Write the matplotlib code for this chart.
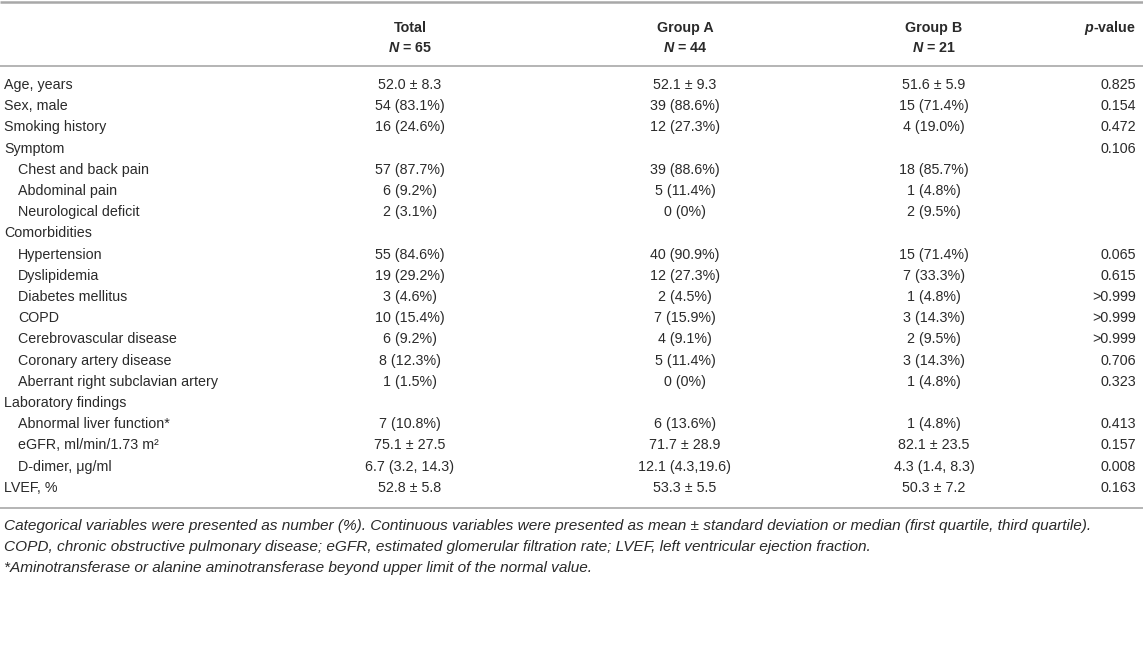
import matplotlib
matplotlib.use("Agg")
import matplotlib.pyplot as plt

plt.rcParams['font.family'] = ['Liberation Sans', 'DejaVu Sans']
plt.rcParams['mathtext.fontset'] = 'custom'
plt.rcParams['mathtext.rm'] = 'Liberation Sans'
plt.rcParams['mathtext.it'] = 'Liberation Sans:italic'
plt.rcParams['mathtext.bf'] = 'Liberation Sans:bold'
plt.rcParams['mathtext.bfit'] = 'Liberation Sans:italic:bold'

headers = ["Total", "Group A", "Group B"]
header_n = ["65", "44", "21"]

labels = ["Age, years", "Sex, male", "Smoking history", "Symptom",
          "Chest and back pain", "Abdominal pain", "Neurological deficit",
          "Comorbidities", "Hypertension", "Dyslipidemia", "Diabetes mellitus",
          "COPD", "Cerebrovascular disease", "Coronary artery disease",
          "Aberrant right subclavian artery", "Laboratory findings",
          "Abnormal liver function*", "eGFR, ml/min/1.73 m²",
          "D-dimer, μg/ml", "LVEF, %"]
indent = [0, 0, 0, 0, 1, 1, 1, 0, 1, 1, 1, 1, 1, 1, 1, 0, 1, 1, 1, 0]
total = ["52.0 ± 8.3", "54 (83.1%)", "16 (24.6%)", "",
         "57 (87.7%)", "6 (9.2%)", "2 (3.1%)", "",
         "55 (84.6%)", "19 (29.2%)", "3 (4.6%)", "10 (15.4%)", "6 (9.2%)",
         "8 (12.3%)", "1 (1.5%)", "",
         "7 (10.8%)", "75.1 ± 27.5", "6.7 (3.2, 14.3)", "52.8 ± 5.8"]
group_a = ["52.1 ± 9.3", "39 (88.6%)", "12 (27.3%)", "",
           "39 (88.6%)", "5 (11.4%)", "0 (0%)", "",
           "40 (90.9%)", "12 (27.3%)", "2 (4.5%)", "7 (15.9%)", "4 (9.1%)",
           "5 (11.4%)", "0 (0%)", "",
           "6 (13.6%)", "71.7 ± 28.9", "12.1 (4.3,19.6)", "53.3 ± 5.5"]
group_b = ["51.6 ± 5.9", "15 (71.4%)", "4 (19.0%)", "",
           "18 (85.7%)", "1 (4.8%)", "2 (9.5%)", "",
           "15 (71.4%)", "7 (33.3%)", "1 (4.8%)", "3 (14.3%)", "2 (9.5%)",
           "3 (14.3%)", "1 (4.8%)", "",
           "1 (4.8%)", "82.1 ± 23.5", "4.3 (1.4, 8.3)", "50.3 ± 7.2"]
p_values = ["0.825", "0.154", "0.472", "0.106",
            "", "", "", "",
            "0.065", "0.615", ">0.999", ">0.999", ">0.999", "0.706",
            "0.323", "",
            "0.413", "0.157", "0.008", "0.163"]
footnotes = [
    "Categorical variables were presented as number (%). Continuous variables were presented as mean ± standard deviation or median (first quartile, third quartile).",
    "COPD, chronic obstructive pulmonary disease; eGFR, estimated glomerular filtration rate; LVEF, left ventricular ejection fraction.",
    "*Aminotransferase or alanine aminotransferase beyond upper limit of the normal value.",
]

W, H = 1143, 660
fig = plt.figure(figsize=(W / 100, H / 100), dpi=100)
ax = fig.add_axes([0, 0, 1, 1])
ax.set_xlim(0, W)
ax.set_ylim(H, 0)
ax.axis('off')

txt = '#2a2a2a'
line_c = '#a8a8a8'
fs = 10.3

col_x = [410, 685, 934]
p_x = 1136
row_y0 = 85
row_dy = 21.2

ax.plot([0, W], [2, 2], color=line_c, lw=1.8, solid_capstyle='butt')
ax.plot([0, W], [66, 66], color=line_c, lw=1.2, solid_capstyle='butt')

for x, h, n in zip(col_x, headers, header_n):
    ax.text(x, 28, h, ha='center', va='center', fontsize=fs, fontweight='bold', color=txt)
    ax.text(x, 48, r"$\mathbfit{N}$ = " + n, ha='center', va='center',
            fontsize=fs, fontweight='bold', color=txt)
ax.text(p_x, 28, r"$\mathbfit{p}$-value", ha='right', va='center',
        fontsize=fs, fontweight='bold', color=txt)

for i, lab in enumerate(labels):
    y = row_y0 + i * row_dy
    ax.text(4 + 14 * indent[i], y, lab, ha='left', va='center', fontsize=fs, color=txt)
    for x, col in zip(col_x, [total, group_a, group_b]):
        if col[i]:
            ax.text(x, y, col[i], ha='center', va='center', fontsize=fs, color=txt)
    if p_values[i]:
        ax.text(p_x, y, p_values[i], ha='right', va='center', fontsize=fs, color=txt)

last_y = row_y0 + (len(labels) - 1) * row_dy
ax.plot([0, W], [last_y + 20, last_y + 20], color=line_c, lw=1.2, solid_capstyle='butt')

for j, fn in enumerate(footnotes):
    ax.text(4, 526 + j * 21, fn, ha='left', va='center', fontsize=11.1,
            style='italic', color=txt)

fig.savefig('out.png', dpi=100)
